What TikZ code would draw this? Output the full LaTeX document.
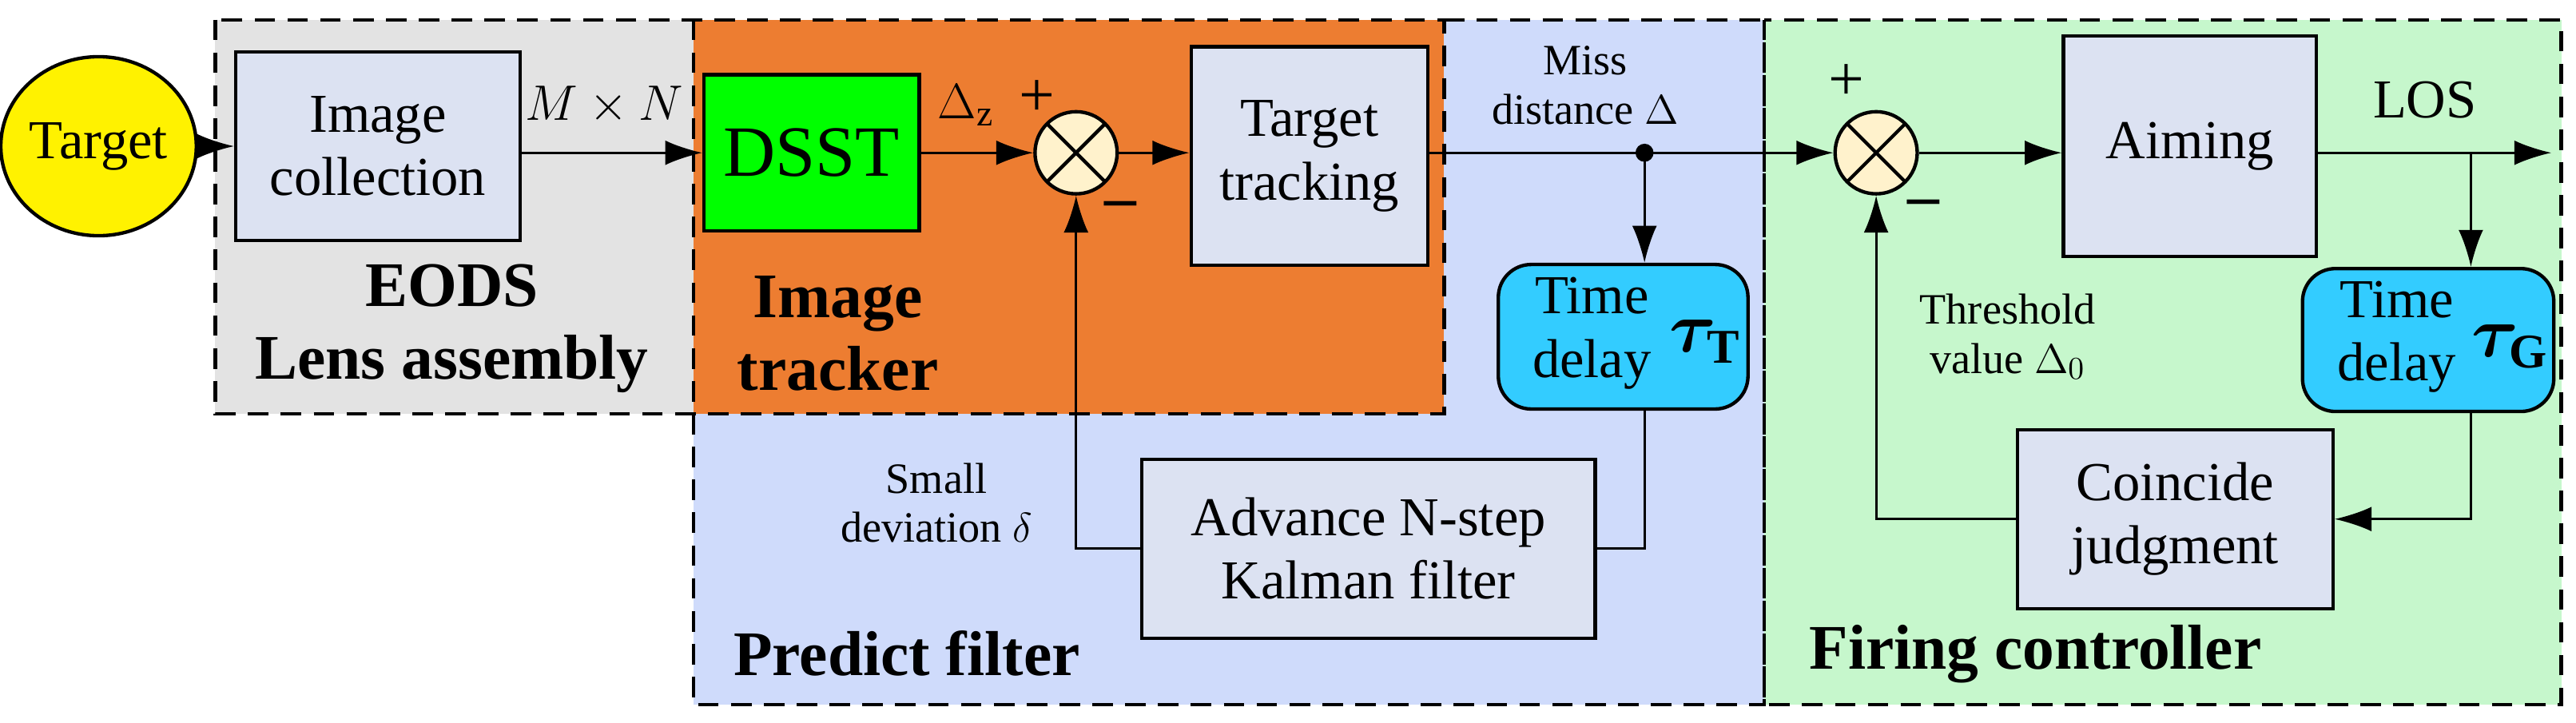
\documentclass[tikz,border=0pt]{standalone}
\usepackage{fontspec}
\setmainfont{Liberation Serif}
\usetikzlibrary{arrows.meta, shapes.geometric}
\definecolor{eodsgray}{RGB}{227,227,227}
\definecolor{trackorange}{RGB}{237,125,49}
\definecolor{predictblue}{RGB}{207,219,251}
\definecolor{firegreen}{RGB}{198,247,204}
\definecolor{boxfill}{RGB}{220,226,242}
\definecolor{delaycyan}{RGB}{51,204,255}
\definecolor{sumfill}{RGB}{255,242,204}

\begin{document}
\begin{tikzpicture}[x=0.02cm, y=-0.02cm]
        \tikzset{block/.style={rectangle, draw=black, very thick, fill=boxfill, align=center, inner sep=0pt, font=\fontsize{19}{22}\selectfont}}
        \tikzset{delay/.style={block, rounded corners=0.4cm, fill=delaycyan}}
        \tikzset{sum/.style={circle, draw=black, very thick, fill=sumfill, minimum size=1cm, inner sep=0pt,
            path picture={\draw[very thick] (path picture bounding box.north west) -- (path picture bounding box.south east)
            (path picture bounding box.north east) -- (path picture bounding box.south west);}}}
        \tikzset{arrow/.style={thick, -{Latex[length=0.45cm, width=0.3cm]}}}
        \tikzset{region/.style={very thick, dash pattern=on 0.25cm off 0.15cm}}
        \tikzset{title/.style={font=\fontsize{22}{25}\selectfont\bfseries, align=center}}
        \tikzset{small/.style={font=\fontsize{15}{17}\selectfont, align=center}}
        \tikzset{tau/.style={font=\fontsize{24}{26}\selectfont\boldmath}}
        \useasboundingbox (0,0) rectangle (1568,440);

        % regions
        \fill[predictblue] (422,12) rectangle (1074,429);
        \fill[firegreen] (1074,12) rectangle (1559,429);
        \fill[eodsgray] (131,12) rectangle (422,252);
        \fill[trackorange] (422,12) rectangle (879,252);
        \draw[region] (422,252) -- (422,429) -- (1074,429) -- (1074,12);
        \draw[region] (1074,12) rectangle (1559,429);
        \draw[region] (131,12) rectangle (879,252);
        \draw[region] (422,12) -- (422,252);
        \draw[region] (879,12) -- (1074,12);

        % blocks
        \node (target) [ellipse, draw=black, very thick, fill=yellow, minimum width=2.1cm, minimum height=2.18cm, inner sep=0pt, font=\fontsize{19}{22}\selectfont] at (60,89) {Target};
        \node (imgcol) [block, minimum width=3.46cm, minimum height=2.3cm] at (230,89) {Image\\collection};
        \node (dsst) [block, fill=green, minimum width=2.62cm, minimum height=1.9cm, font=\fontsize{25}{28}\selectfont] at (494,93) {DSST};
        \node (sum1) [sum] at (655,93) {};
        \node (track) [block, minimum width=2.88cm, minimum height=2.66cm] at (797,95) {Target\\tracking};
        \node (sum2) [sum] at (1142,93) {};
        \node (aim) [block, minimum width=3.08cm, minimum height=2.68cm] at (1333,89) {Aiming};
        \node (tdT) [delay, minimum width=3.04cm, minimum height=1.76cm] at (988,205) {};
        \node (tdG) [delay, minimum width=3.06cm, minimum height=1.74cm] at (1478,207) {};
        \node (kal) [block, minimum width=5.52cm, minimum height=2.18cm] at (833,334) {Advance N-step\\Kalman filter};
        \node (coin) [block, minimum width=3.84cm, minimum height=2.18cm] at (1324,316) {Coincide\\judgment};
        \coordinate (dot) at (1001,93);
        \coordinate (br) at (1504,93);
        \coordinate (los) at (1553,93);

        % connectors
        \draw [arrow] (target) -- (imgcol);
        \draw [arrow] (imgcol.east |- dsst.west) -- (dsst.west);
        \draw [arrow] (dsst) -- (sum1);
        \draw [arrow] (sum1) -- (sum1 -| track.west);
        \draw [arrow] (track.east |- dot) -- (dot) -- (sum2.west);
        \fill (dot) circle (0.11cm);
        \draw [arrow] (dot) -- (dot |- tdT.north);
        \draw [thick] (dot |- tdT.south) |- (kal.east);
        \draw [arrow] (kal.west) -| (sum1.south);
        \draw [arrow] (sum2) -- (sum2 -| aim.west);
        \draw [arrow] (aim.east |- br) -- (los);
        \draw [arrow] (br) -- (br |- tdG.north);
        \draw [arrow] (br |- tdG.south) |- (coin.east);
        \draw [arrow] (coin.west) -| (sum2.south);

        % labels
        \node (tdTtext) [font=\fontsize{19}{22}\selectfont, align=center] at (969,203) {Time\\delay};
        \node (tauT) [tau] at (1038,208) {$\tau_{\mathrm{T}}$};
        \node (tdGtext) [font=\fontsize{19}{22}\selectfont, align=center] at (1459,205) {Time\\delay};
        \node (tauG) [tau] at (1528,211) {$\tau_{\mathrm{G}}$};
        \node (mn) [font=\fontsize{18}{20}\selectfont] at (368,64) {$M\times N$};
        \node (dz) [font=\fontsize{18}{20}\selectfont] at (588,64) {$\Delta_{\mathrm{z}}$};
        \node (plus1) [font=\fontsize{22}{24}\selectfont] at (631,60) {+};
        \node (minus1) [font=\fontsize{22}{24}\selectfont\bfseries] at (682,128) {--};
        \node (plus2) [font=\fontsize{22}{24}\selectfont] at (1124,50) {+};
        \node (minus2) [font=\fontsize{22}{24}\selectfont\bfseries] at (1171,127) {--};
        \node (loslabel) [font=\fontsize{19}{22}\selectfont] at (1476,61) {LOS};
        \node (miss) [small] at (965,52) {Miss\\distance $\Delta$};
        \node (smalldev) [small] at (570,306) {Small\\deviation $\delta$};
        \node (thresh) [small] at (1222,205) {Threshold\\value $\Delta_0$};
        \node (eods) [title] at (275,200) {EODS\\Lens assembly};
        \node (tracker) [title] at (510,203) {Image\\tracker};
        \node (predict) [title] at (552,398) {Predict filter};
        \node (firing) [title] at (1239,398) {Firing controller};
\end{tikzpicture}
\end{document}
